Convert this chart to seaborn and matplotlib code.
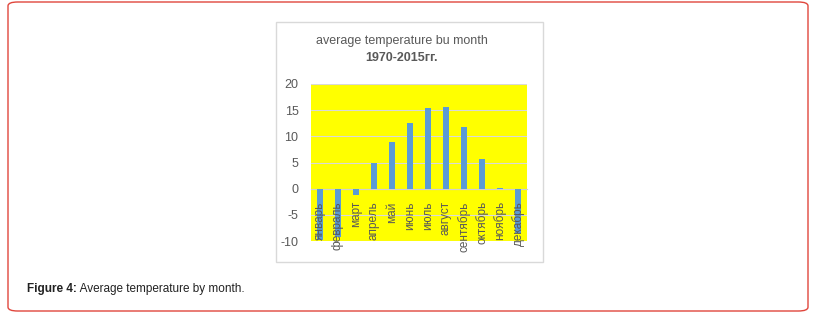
import matplotlib
matplotlib.use("Agg")
import matplotlib.pyplot as plt
import seaborn as sns
import pandas as pd
from matplotlib.patches import FancyBboxPatch, Rectangle

months = ["январь", "февраль", "март", "апрель", "май", "июнь", "июль",
          "август", "сентябрь", "октябрь", "ноябрь", "декабрь"]
temps = [-9.8, -9.2, -1.2, 5.0, 9.0, 12.5, 15.5, 15.7, 11.8, 5.7, 0.2, -8.5]
yticks = [-10, -5, 0, 5, 10, 15, 20]
title = "average temperature bu month\n1970-2015гг."
caption_bold = "Figure 4:"
caption_text = " Average temperature by month."

sns.set_theme(style="white")
plt.rcParams['font.family'] = ['Liberation Sans', 'DejaVu Sans']

W, H = 817, 321
fig = plt.figure(figsize=(W / 100, H / 100), dpi=100)

# outer rounded frame
fig.patches.append(FancyBboxPatch((8 / W, 10 / H), 800 / W, 309 / H,
                                  boxstyle="round,pad=0,rounding_size=0.012",
                                  transform=fig.transFigure, fill=False,
                                  edgecolor="#e0463c", linewidth=1.0))
# chart frame
fig.patches.append(Rectangle((276 / W, (H - 262) / H), 267 / W, 240 / H,
                             transform=fig.transFigure, fill=False,
                             edgecolor="#d9d9d9", linewidth=1.0))

ax = fig.add_axes([311 / W, (H - 241) / H, 216 / W, 157 / H])
df = pd.DataFrame({"month": months, "temp": temps})
sns.barplot(data=df, x="month", y="temp", color="#5b9bd5", width=0.35,
            saturation=1, ax=ax, zorder=2, linewidth=0, edgecolor="none")
ax.set_facecolor("#ffff00")
ax.set_ylim(-10, 20)
ax.set_xlim(-0.5, len(months) - 0.5)
ax.set_yticks(yticks)
ax.set_yticklabels([str(v) for v in yticks])
ax.yaxis.grid(True, color="#d9d9d9", linewidth=0.8)
ax.set_axisbelow(True)
ax.xaxis.set_zorder(5)
ax.set_xlabel("")
ax.set_ylabel("")
for s in ["top", "right", "left"]:
    ax.spines[s].set_visible(False)
ax.spines["bottom"].set_position(("data", 0))
ax.spines["bottom"].set_color("#d0d0d0")
ax.spines["bottom"].set_linewidth(0.8)
ax.spines["bottom"].set_zorder(1)
ax.tick_params(axis="y", length=0, pad=9, labelsize=9, labelcolor="#595959")
ax.tick_params(axis="x", length=0, pad=9, labelsize=8.5, labelcolor="#595959")
for lbl in ax.get_xticklabels():
    lbl.set_rotation(90)
    lbl.set_va("top")
    lbl.set_ha("center")

fig.text(402 / W, 1 - 41 / H, "average temperature bu month", ha="center",
         va="center", fontsize=9, color="#595959")
fig.text(402 / W, 1 - 58 / H, "1970-2015гг.", ha="center", va="center",
         fontsize=9, color="#595959", fontweight="bold")

t = fig.text(27 / W, 1 - 289 / H, caption_bold, ha="left", va="center",
             fontsize=8.5, fontweight="bold", color="#222222")
fig.canvas.draw()
bb = t.get_window_extent()
fig.text(bb.x1 / W, 1 - 289 / H, caption_text, ha="left", va="center",
         fontsize=8.5, color="#222222")

fig.savefig("out.png", dpi=100)
